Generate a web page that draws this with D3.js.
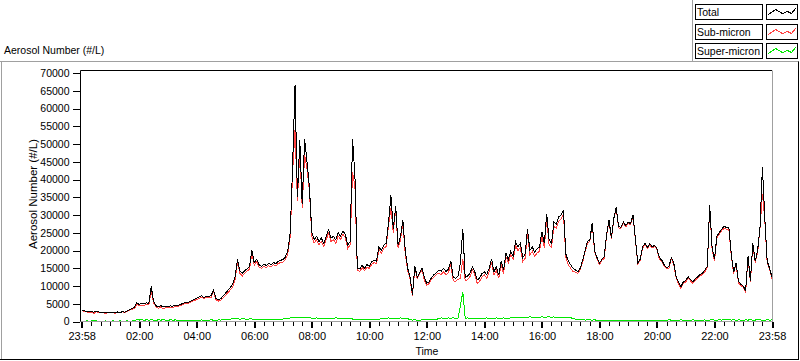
<!DOCTYPE html>
<html><head><meta charset="utf-8">
<script src="https://cdn.jsdelivr.net/npm/d3@7"></script>
<style>
body{margin:0;background:#fff}
svg{display:block}
text{font-family:"Liberation Sans",Arial,sans-serif;fill:#000}
</style>
</head><body>
<svg id="c" width="800" height="361"></svg>
<script>
// sampling interval of the series (minutes from 23:58)
const sampleMinutes = 5;

const total = [
3200,3000,2900,2700,2800,2600,2900,2700,2500,2600,2400,2700,
2500,2600,2400,2700,2500,2800,2600,3000,3300,3600,4000,5300,
4800,5200,4900,5300,5000,9900,5600,4400,4200,4500,4100,4300,
4200,4400,4300,4600,4400,4800,5000,5300,5200,5600,5900,6200,
6600,6900,7200,6800,7100,7000,7300,8900,6500,6200,6400,7200,
8000,8800,9600,10500,12500,17500,14200,13600,14300,14800,15500,20000,
16500,17500,16000,15500,16200,15800,16400,16000,16600,16300,17000,17200,
17500,18200,20000,25000,44000,66500,35000,51000,33000,51500,45000,38000,
25000,23000,24000,22500,23500,22000,24000,25800,23500,24000,23000,25000,
24000,25500,24500,21500,22500,51500,41000,15000,14800,15800,15000,16000,
15600,16800,17200,17000,21000,20000,21500,22000,27800,35500,26000,32500,
21500,24000,28500,20000,15000,12500,7600,15500,12500,13800,15000,12200,
10800,11200,12400,13200,13800,14500,14200,15000,14000,14800,17000,12500,
12200,12800,16500,26000,12400,12800,13600,15400,14000,11700,12200,13500,
14000,13200,15000,17600,14000,15400,13000,17000,14500,19200,17500,19800,
18500,22500,21000,22000,18000,19000,26000,20000,21000,19500,20500,21000,
25300,22000,30300,23000,22000,28000,27500,29500,30000,31400,19000,17000,
16000,15000,14500,14000,15000,17300,20000,22500,23000,27800,20000,18000,
16400,17500,18200,24500,28600,23500,29000,32300,26700,26500,28000,27000,
28000,27500,30000,23500,16500,17500,21000,22000,20800,22000,21000,21500,
20500,18000,17300,16000,15200,15500,18000,16500,12600,11000,9800,11200,
11500,12600,11800,11200,12000,12600,13200,13600,14500,15500,32800,21000,
17500,24000,25000,26000,26800,26500,26500,19000,14000,16500,11400,10500,
10000,8700,18400,11500,22000,17000,20000,26700,43600,29000,17000,15000,
12500];

const subMicron = [
3050,2900,2750,2580,2700,2200,2750,2600,2380,2500,2250,2600,
2400,2450,2280,2600,2350,2700,2480,2850,3200,3450,3700,4800,
4400,4600,4600,4800,4650,8500,5200,4100,3700,4150,3500,3900,
3900,3900,3950,4150,4100,4550,4700,5050,5000,5300,5650,5900,
6200,6550,6750,6500,6700,6650,6850,8500,6150,5750,6000,6700,
7400,8100,8950,9700,11800,16750,13550,12800,13600,14200,14750,19300,
15850,16900,15300,14950,15550,15200,15700,15400,15950,15600,16400,16550,
16800,17450,19100,24000,42000,54000,34000,48000,32000,47000,43000,36900,
24050,22100,23000,21650,22550,21100,23000,24950,22550,23100,22000,24050,
23100,24650,23550,20600,21650,42000,38000,14400,14100,15150,14400,15300,
14950,16100,16600,16300,20350,19200,20600,21150,26800,32000,25050,31650,
20600,23000,27650,19050,14200,12000,7200,15050,12100,13450,14500,11600,
10250,10700,11950,12600,13250,13600,13200,14050,13100,13800,16050,11500,
11300,11850,12100,17700,11500,11800,12650,14550,13100,10700,11350,12550,
13100,12200,14150,16650,13100,14400,12150,16050,13500,18300,16550,18800,
17450,21400,20000,20800,16900,17750,24850,18700,19800,18400,19250,19800,
24000,20800,29050,21650,20800,26700,26350,28250,28800,30300,18000,15950,
15000,14050,13900,13500,14550,16750,19600,22000,22550,27400,19500,17700,
16050,17200,17800,24250,28300,23150,28750,32000,26350,26250,27700,26650,
27700,27250,29650,23200,16250,17200,20650,21750,20500,21650,20700,21250,
20200,17650,17050,15600,14900,14950,17650,16100,12300,10650,9300,10900,
11100,12300,11450,10700,11700,12200,12850,13300,14050,15200,32450,20400,
17100,23650,24500,25600,26250,26050,25900,18600,13500,16150,10950,10100,
9650,8250,18000,11000,21650,16600,19450,26250,36000,28650,16500,14600,
12050];

const superMicron = [
150,100,150,120,100,400,150,100,120,100,150,100,
100,150,120,100,150,100,120,150,100,150,300,500,
400,600,300,500,350,550,400,300,500,350,600,400,
300,500,350,450,300,250,300,250,200,300,250,300,
400,350,450,300,400,350,450,400,350,450,400,500,
600,700,650,800,700,750,650,800,700,600,750,700,
650,600,700,550,650,600,700,600,650,700,600,650,
700,750,900,1000,1100,1200,1000,1150,1100,1200,1050,1100,
950,900,1000,850,950,900,1000,850,950,900,1000,950,
900,850,950,900,850,700,650,600,700,650,600,700,
650,700,600,700,650,800,900,850,1000,900,950,850,
900,1000,850,950,800,500,400,450,400,350,500,600,
550,500,450,600,550,900,1000,950,900,1000,950,1000,
900,950,4400,8300,900,1000,950,850,900,1000,850,950,
900,1000,850,950,900,1000,850,950,1000,900,950,1000,
1050,1100,1000,1200,1100,1250,1150,1300,1200,1100,1250,1200,
1300,1200,1250,1350,1200,1300,1150,1250,1200,1100,1000,1050,
1000,950,600,500,450,550,400,500,450,400,500,300,
350,300,400,250,300,350,250,300,350,250,300,350,
300,250,350,300,250,300,350,250,300,350,300,250,
300,350,250,400,300,550,350,400,300,350,500,300,
400,300,350,500,300,400,350,300,450,300,350,600,
400,350,500,400,550,450,600,400,500,350,450,400,
350,450,400,500,350,400,550,450,400,350,500,400,
450];

const xTickLabels = ["23:58","02:00","04:00","06:00","08:00","10:00","12:00","14:00","16:00","18:00","20:00","22:00","23:58"];
const yTickValues = [0,5000,10000,15000,20000,25000,30000,35000,40000,45000,50000,55000,60000,65000,70000];
const seriesNames = ["Total","Sub-micron","Super-micron"];
const seriesColors = ["#000000","#ff4040","#00e800"];
const chartTitle = "Aerosol Number (#/L)";
const yAxisTitle = "Aerosol Number (#/L)";
const xAxisTitle = "Time";

const svg = d3.select("#c");
const pl = 81, pr = 772, pt = 70, pb = 322;

const spanMinutes = (total.length - 1) * sampleMinutes;
const x = d3.scaleLinear().domain([0, spanMinutes]).range([81.7, 772]);
const y = d3.scaleLinear().domain([0, 70000]).range([321.5, 73]);

// outer panel frame (3D look)
svg.append("line").attr("x1",0).attr("x2",799).attr("y1",61.5).attr("y2",61.5).attr("stroke","#a0a0a0");
svg.append("line").attr("x1",692.5).attr("x2",692.5).attr("y1",0).attr("y2",61.5).attr("stroke","#a0a0a0");
svg.append("line").attr("x1",1.5).attr("x2",1.5).attr("y1",61.5).attr("y2",360).attr("stroke","#a0a0a0");
svg.append("line").attr("x1",798.5).attr("x2",798.5).attr("y1",61.5).attr("y2",360).attr("stroke","#000");
svg.append("line").attr("x1",0).attr("x2",799).attr("y1",359.5).attr("y2",359.5).attr("stroke","#000");

// title
svg.append("text").attr("x",4).attr("y",54).style("font-size","10.5px").text(chartTitle);

// plot clip
svg.append("clipPath").attr("id","pc").append("rect")
  .attr("x",pl).attr("y",pt).attr("width",pr-pl).attr("height",pb-pt);

const idx = d3.range(total.length);
const line = arr => d3.line().x(i => x(i*sampleMinutes)).y(i => y(arr[i]))(idx);

const g = svg.append("g").attr("clip-path","url(#pc)");
[[superMicron,2],[subMicron,1],[total,0]].forEach(([arr,k]) => {
  g.append("path").attr("d", line(arr)).attr("fill","none")
   .attr("stroke", seriesColors[k]).attr("stroke-width",1)
   .attr("shape-rendering","crispEdges");
});

// plot frame
svg.append("line").attr("x1",80.5).attr("x2",772).attr("y1",70.5).attr("y2",70.5).attr("stroke","#000");
svg.append("line").attr("x1",80.5).attr("x2",80.5).attr("y1",70.5).attr("y2",322).attr("stroke","#000");
svg.append("line").attr("x1",772.5).attr("x2",772.5).attr("y1",70.5).attr("y2",322).attr("stroke","#a0a0a0");
svg.append("line").attr("x1",80.5).attr("x2",772.5).attr("y1",321.5).attr("y2",321.5).attr("stroke","#a0a0a0");

// y axis
const ya = svg.append("g").attr("transform","translate(79.5,0)")
  .call(d3.axisLeft(y).tickValues(yTickValues).tickSize(7).tickPadding(3).tickFormat(d3.format("d")));
ya.select(".domain").remove();
ya.selectAll("line").attr("shape-rendering","crispEdges");
ya.selectAll("text").style("font-size","10.5px").style("font-family","Liberation Sans, Arial, sans-serif");

// x axis: major ticks
const majorVals = xTickLabels.map((d,i) => i*spanMinutes/(xTickLabels.length-1));
const xa = svg.append("g").attr("transform","translate(0,322)")
  .call(d3.axisBottom(x).tickValues(majorVals).tickSize(6).tickPadding(4).tickFormat((d,i) => xTickLabels[i]));
xa.select(".domain").remove();
xa.selectAll("line").attr("stroke-width",2).attr("shape-rendering","crispEdges");
xa.selectAll("text").style("font-size","11px").style("font-family","Liberation Sans, Arial, sans-serif");
// minor ticks
const minorVals = [];
for (let i = 0; i < majorVals.length-1; i++) {
  for (let k = 1; k < 6; k++) minorVals.push(majorVals[i] + k*(majorVals[i+1]-majorVals[i])/6);
}
const xm = svg.append("g").attr("transform","translate(0,322)")
  .call(d3.axisBottom(x).tickValues(minorVals).tickSize(4).tickFormat(""));
xm.select(".domain").remove();
xm.selectAll("line").attr("shape-rendering","crispEdges");

// axis titles
svg.append("text").attr("x",427).attr("y",355).attr("text-anchor","middle").style("font-size","10.5px").text(xAxisTitle);
svg.append("text").attr("transform","translate(37,194) rotate(-90)").attr("text-anchor","middle").style("font-size","11.5px").text(yAxisTitle);

// legend
const legTops = [4, 23.5, 43];
seriesNames.forEach((name,i) => {
  const ty = Math.round(legTops[i]) + 0.5;
  svg.append("rect").attr("x",695.5).attr("y",ty).attr("width",67).attr("height",15)
    .attr("fill","#fff").attr("stroke","#000");
  svg.append("text").attr("x",697).attr("y",ty+11.5).style("font-size","10.5px").text(name);
  svg.append("rect").attr("x",766.5).attr("y",ty).attr("width",31).attr("height",15)
    .attr("fill","#fff").attr("stroke","#000");
  const pts = [[2,10],[9,5],[16,9],[21,7],[25,9],[29,4]];
  svg.append("path").attr("d", d3.line()(pts.map(p => [766.5+p[0], ty+p[1]])))
    .attr("fill","none").attr("stroke",seriesColors[i]).attr("shape-rendering","crispEdges");
});
</script>
</body></html>
